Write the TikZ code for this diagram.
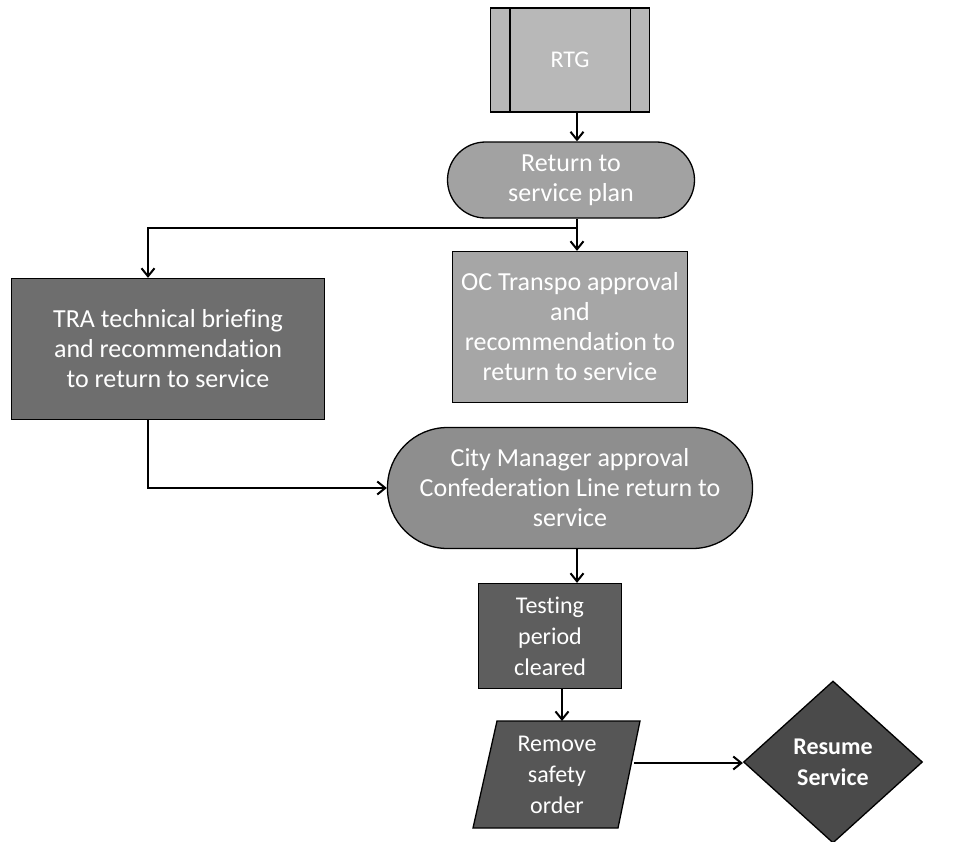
\documentclass[tikz,border=0pt]{standalone}
\usepackage{fontspec}
\setmainfont{Carlito}[Ligatures=NoCommon]
\usetikzlibrary{arrows.meta,shapes.geometric}
\definecolor{gA}{HTML}{B8B8B8}
\definecolor{gB}{HTML}{A2A2A2}
\definecolor{gC}{HTML}{A6A6A6}
\definecolor{gD}{HTML}{6E6E6E}
\definecolor{gE}{HTML}{8E8E8E}
\definecolor{gF}{HTML}{5E5E5E}
\definecolor{gG}{HTML}{565656}
\definecolor{gH}{HTML}{4A4A4A}
\tikzset{
  shp/.style={draw=black, line width=1.3pt, text=white, align=center, inner sep=2pt,
              font=\fontsize{26}{30}\selectfont},
  small/.style={font=\fontsize{24}{31}\selectfont},
  boxn/.style={shp, rectangle},
  pill/.style={shp, rectangle},
  arr/.style={draw=black, line width=2pt, -{Straight Barb[length=8pt,width=13pt,line width=2pt]}},
  ln/.style={draw=black, line width=2pt}
}
\begin{document}
\begin{tikzpicture}[x=1pt,y=-1pt]
\useasboundingbox (0,0) rectangle (969,841);
% RTG predefined process
\node[boxn, small, fill=gA, minimum width=159pt, minimum height=104pt] (rtg) at (570,60) {RTG};
\draw[line width=1.3pt] ([xshift=20pt]rtg.north west) -- ([xshift=20pt]rtg.south west);
\draw[line width=1.3pt] ([xshift=-20pt]rtg.north east) -- ([xshift=-20pt]rtg.south east);
% Return to service plan
\node[pill, fill=gB, minimum width=247pt, minimum height=76pt, rounded corners=38pt] (plan) at (571,180) {Return to\\service plan};
% OC Transpo
\node[boxn, fill=gC, minimum width=235pt, minimum height=151pt] (oc) at (570,327) {OC Transpo approval\\and\\recommendation to\\return to service};
% TRA
\node[boxn, fill=gD, minimum width=313pt, minimum height=141pt] (tra) at (168,349) {TRA technical briefing\\and recommendation\\to return to service};
% City Manager
\node[pill, fill=gE, minimum width=365pt, minimum height=121pt, rounded corners=60pt] (city) at (570,488) {City Manager approval\\Confederation Line return to\\service};
% Testing
\node[boxn, small, fill=gF, minimum width=143pt, minimum height=105pt] (test) at (550,636) {Testing\\period\\cleared};
% Remove safety order (parallelogram)
\draw[line width=1.3pt, fill=gG] (497,721) -- (640,721) -- (618,828) -- (473,828) -- cycle;
\node[shp, small, draw=none] (remove) at (557,775) {Remove\\safety\\order};
\coordinate (remtop) at (562,721);
\coordinate (remright) at (634,763);
% Resume Service
\node[shp, shape=diamond, fill=gH, inner sep=0pt, minimum width=179pt, minimum height=162pt, font=\fontsize{24}{31}\selectfont\bfseries] (resume) at (833,762) {Resume\\Service};
% connectors
\coordinate (j) at (577,228);
\draw[arr] ([xshift=7pt]rtg.south) -- ([xshift=7pt]rtg.south |- plan.north);
\draw[ln] ([xshift=6pt]plan.south) -- (j);
\draw[arr] (j) -- (j |- oc.north);
\draw[arr] (j) -| ([xshift=-20pt]tra.north);
\draw[arr] ([xshift=-20pt]tra.south) |- (city.west);
\draw[arr] ([xshift=7pt]city.south) -- ([xshift=7pt]city.south |- test.north);
\draw[arr] (test.south -| remtop) -- (remtop);
\draw[arr] (remright) -- (resume.west |- remright);
\end{tikzpicture}
\end{document}
